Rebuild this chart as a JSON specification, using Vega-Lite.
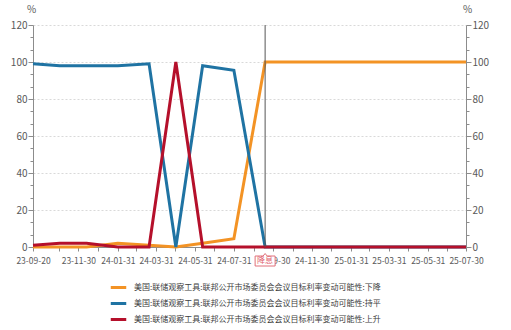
{
  "$schema": "https://vega.github.io/schema/vega-lite/v6.json",
  "autosize": {"type": "none"},
  "width": 433,
  "height": 222,
  "padding": {"left": 33, "top": 25, "right": 45, "bottom": 83},
  "background": "#ffffff",
  "config": {
    "view": {"stroke": null},
    "font": "Noto Sans CJK SC",
    "axis": {
      "labelFont": "Noto Sans CJK SC",
      "labelColor": "#595959",
      "titleColor": "#595959",
      "domainColor": "#8c8c8c",
      "tickColor": "#8c8c8c",
      "grid": false
    }
  },
  "datasets": {
    "fomc": [
      {"date": "2023-09-20", "series": "美国:联储观察工具:联邦公开市场委员会会议目标利率变动可能性:下降", "value": 0},
      {"date": "2023-11-01", "series": "美国:联储观察工具:联邦公开市场委员会会议目标利率变动可能性:下降", "value": 0},
      {"date": "2023-12-13", "series": "美国:联储观察工具:联邦公开市场委员会会议目标利率变动可能性:下降", "value": 0},
      {"date": "2024-01-31", "series": "美国:联储观察工具:联邦公开市场委员会会议目标利率变动可能性:下降", "value": 2},
      {"date": "2024-03-20", "series": "美国:联储观察工具:联邦公开市场委员会会议目标利率变动可能性:下降", "value": 1},
      {"date": "2024-05-01", "series": "美国:联储观察工具:联邦公开市场委员会会议目标利率变动可能性:下降", "value": 0},
      {"date": "2024-06-12", "series": "美国:联储观察工具:联邦公开市场委员会会议目标利率变动可能性:下降", "value": 2},
      {"date": "2024-07-31", "series": "美国:联储观察工具:联邦公开市场委员会会议目标利率变动可能性:下降", "value": 4.5},
      {"date": "2024-09-18", "series": "美国:联储观察工具:联邦公开市场委员会会议目标利率变动可能性:下降", "value": 100},
      {"date": "2024-11-07", "series": "美国:联储观察工具:联邦公开市场委员会会议目标利率变动可能性:下降", "value": 100},
      {"date": "2024-12-18", "series": "美国:联储观察工具:联邦公开市场委员会会议目标利率变动可能性:下降", "value": 100},
      {"date": "2025-01-29", "series": "美国:联储观察工具:联邦公开市场委员会会议目标利率变动可能性:下降", "value": 100},
      {"date": "2025-03-19", "series": "美国:联储观察工具:联邦公开市场委员会会议目标利率变动可能性:下降", "value": 100},
      {"date": "2025-05-07", "series": "美国:联储观察工具:联邦公开市场委员会会议目标利率变动可能性:下降", "value": 100},
      {"date": "2025-06-18", "series": "美国:联储观察工具:联邦公开市场委员会会议目标利率变动可能性:下降", "value": 100},
      {"date": "2025-07-30", "series": "美国:联储观察工具:联邦公开市场委员会会议目标利率变动可能性:下降", "value": 100},
      {"date": "2023-09-20", "series": "美国:联储观察工具:联邦公开市场委员会会议目标利率变动可能性:持平", "value": 99},
      {"date": "2023-11-01", "series": "美国:联储观察工具:联邦公开市场委员会会议目标利率变动可能性:持平", "value": 98},
      {"date": "2023-12-13", "series": "美国:联储观察工具:联邦公开市场委员会会议目标利率变动可能性:持平", "value": 98},
      {"date": "2024-01-31", "series": "美国:联储观察工具:联邦公开市场委员会会议目标利率变动可能性:持平", "value": 98},
      {"date": "2024-03-20", "series": "美国:联储观察工具:联邦公开市场委员会会议目标利率变动可能性:持平", "value": 99},
      {"date": "2024-05-01", "series": "美国:联储观察工具:联邦公开市场委员会会议目标利率变动可能性:持平", "value": 0},
      {"date": "2024-06-12", "series": "美国:联储观察工具:联邦公开市场委员会会议目标利率变动可能性:持平", "value": 98},
      {"date": "2024-07-31", "series": "美国:联储观察工具:联邦公开市场委员会会议目标利率变动可能性:持平", "value": 95.5},
      {"date": "2024-09-18", "series": "美国:联储观察工具:联邦公开市场委员会会议目标利率变动可能性:持平", "value": 0},
      {"date": "2024-11-07", "series": "美国:联储观察工具:联邦公开市场委员会会议目标利率变动可能性:持平", "value": 0},
      {"date": "2024-12-18", "series": "美国:联储观察工具:联邦公开市场委员会会议目标利率变动可能性:持平", "value": 0},
      {"date": "2025-01-29", "series": "美国:联储观察工具:联邦公开市场委员会会议目标利率变动可能性:持平", "value": 0},
      {"date": "2025-03-19", "series": "美国:联储观察工具:联邦公开市场委员会会议目标利率变动可能性:持平", "value": 0},
      {"date": "2025-05-07", "series": "美国:联储观察工具:联邦公开市场委员会会议目标利率变动可能性:持平", "value": 0},
      {"date": "2025-06-18", "series": "美国:联储观察工具:联邦公开市场委员会会议目标利率变动可能性:持平", "value": 0},
      {"date": "2025-07-30", "series": "美国:联储观察工具:联邦公开市场委员会会议目标利率变动可能性:持平", "value": 0},
      {"date": "2023-09-20", "series": "美国:联储观察工具:联邦公开市场委员会会议目标利率变动可能性:上升", "value": 1},
      {"date": "2023-11-01", "series": "美国:联储观察工具:联邦公开市场委员会会议目标利率变动可能性:上升", "value": 2},
      {"date": "2023-12-13", "series": "美国:联储观察工具:联邦公开市场委员会会议目标利率变动可能性:上升", "value": 2},
      {"date": "2024-01-31", "series": "美国:联储观察工具:联邦公开市场委员会会议目标利率变动可能性:上升", "value": 0},
      {"date": "2024-03-20", "series": "美国:联储观察工具:联邦公开市场委员会会议目标利率变动可能性:上升", "value": 0},
      {"date": "2024-05-01", "series": "美国:联储观察工具:联邦公开市场委员会会议目标利率变动可能性:上升", "value": 100},
      {"date": "2024-06-12", "series": "美国:联储观察工具:联邦公开市场委员会会议目标利率变动可能性:上升", "value": 0},
      {"date": "2024-07-31", "series": "美国:联储观察工具:联邦公开市场委员会会议目标利率变动可能性:上升", "value": 0},
      {"date": "2024-09-18", "series": "美国:联储观察工具:联邦公开市场委员会会议目标利率变动可能性:上升", "value": 0},
      {"date": "2024-11-07", "series": "美国:联储观察工具:联邦公开市场委员会会议目标利率变动可能性:上升", "value": 0},
      {"date": "2024-12-18", "series": "美国:联储观察工具:联邦公开市场委员会会议目标利率变动可能性:上升", "value": 0},
      {"date": "2025-01-29", "series": "美国:联储观察工具:联邦公开市场委员会会议目标利率变动可能性:上升", "value": 0},
      {"date": "2025-03-19", "series": "美国:联储观察工具:联邦公开市场委员会会议目标利率变动可能性:上升", "value": 0},
      {"date": "2025-05-07", "series": "美国:联储观察工具:联邦公开市场委员会会议目标利率变动可能性:上升", "value": 0},
      {"date": "2025-06-18", "series": "美国:联储观察工具:联邦公开市场委员会会议目标利率变动可能性:上升", "value": 0},
      {"date": "2025-07-30", "series": "美国:联储观察工具:联邦公开市场委员会会议目标利率变动可能性:上升", "value": 0}
    ],
    "events": [
      {"date": "2024-09-18", "label": "降息"}
    ]
  },
  "encoding": {
    "x": {
      "field": "date",
      "type": "temporal",
      "title": null,
      "scale": {"type": "utc", "domain": [{"year": 2023, "month": 9, "date": 20, "utc": true}, {"year": 2025, "month": 7, "date": 30, "utc": true}]},
      "axis": {
        "title": null,
        "values": [
          {"year": 2023, "month": 9, "date": 20, "utc": true},
          {"year": 2023, "month": 10, "date": 31, "utc": true},
          {"year": 2023, "month": 11, "date": 30, "utc": true},
          {"year": 2023, "month": 12, "date": 31, "utc": true},
          {"year": 2024, "month": 1, "date": 31, "utc": true},
          {"year": 2024, "month": 2, "date": 29, "utc": true},
          {"year": 2024, "month": 3, "date": 31, "utc": true},
          {"year": 2024, "month": 4, "date": 30, "utc": true},
          {"year": 2024, "month": 5, "date": 31, "utc": true},
          {"year": 2024, "month": 6, "date": 30, "utc": true},
          {"year": 2024, "month": 7, "date": 31, "utc": true},
          {"year": 2024, "month": 8, "date": 31, "utc": true},
          {"year": 2024, "month": 9, "date": 30, "utc": true},
          {"year": 2024, "month": 10, "date": 31, "utc": true},
          {"year": 2024, "month": 11, "date": 30, "utc": true},
          {"year": 2024, "month": 12, "date": 31, "utc": true},
          {"year": 2025, "month": 1, "date": 31, "utc": true},
          {"year": 2025, "month": 2, "date": 28, "utc": true},
          {"year": 2025, "month": 3, "date": 31, "utc": true},
          {"year": 2025, "month": 4, "date": 30, "utc": true},
          {"year": 2025, "month": 5, "date": 31, "utc": true},
          {"year": 2025, "month": 6, "date": 30, "utc": true},
          {"year": 2025, "month": 7, "date": 30, "utc": true}
        ],
        "labelExpr": "utcmonth(datum.value) % 2 == 0 ? utcFormat(datum.value, '%y-%m-%d') : ''",
        "labelOverlap": false,
        "labelFlush": false,
        "labelFontSize": 8.5,
        "labelPadding": 5,
        "tickSize": 4,
        "domain": true
      }
    }
  },
  "layer": [
    {
      "data": {"name": "fomc"},
      "mark": {"type": "line", "strokeWidth": 3, "strokeJoin": "miter", "interpolate": "linear"},
      "encoding": {
        "y": {
          "field": "value",
          "type": "quantitative",
          "scale": {"domain": [0, 120], "nice": false},
          "axis": {
            "orient": "left",
            "title": "%",
            "titleAngle": 0,
            "titleFontSize": 10,
            "titleFontWeight": "normal",
            "titleX": -2,
            "titleY": -11,
            "titleAlign": "center",
            "values": [0, 6.6667, 13.3333, 20, 26.6667, 33.3333, 40, 46.6667, 53.3333, 60, 66.6667, 73.3333, 80, 86.6667, 93.3333, 100, 106.6667, 113.3333, 120],
            "labelExpr": "abs(datum.value - round(datum.value / 20) * 20) < 0.01 ? format(datum.value, 'd') : ''",
            "labelFontSize": 10,
            "labelPadding": 1,
            "tickSize": {"condition": {"test": "abs(datum.value - round(datum.value / 20) * 20) < 0.01", "value": 5}, "value": 3},
            "grid": true,
            "gridColor": "#d9d9d9",
            "gridDash": [2, 2],
            "gridOpacity": {"condition": {"test": "abs(datum.value - round(datum.value / 20) * 20) < 0.01 && datum.value > 0", "value": 1}, "value": 0}
          }
        },
        "color": {
          "field": "series",
          "type": "nominal",
          "sort": null,
          "scale": {
            "domain": [
              "美国:联储观察工具:联邦公开市场委员会会议目标利率变动可能性:下降",
              "美国:联储观察工具:联邦公开市场委员会会议目标利率变动可能性:持平",
              "美国:联储观察工具:联邦公开市场委员会会议目标利率变动可能性:上升"
            ],
            "range": ["#f39325", "#1f73a3", "#b5102b"]
          },
          "legend": {
            "orient": "none",
            "legendX": 76,
            "legendY": 253,
            "direction": "vertical",
            "title": null,
            "symbolType": "stroke",
            "symbolStrokeWidth": 3,
            "symbolSize": 240,
            "labelFontSize": 8,
            "labelColor": "#404040",
            "labelLimit": 400,
            "labelOffset": 6,
            "rowPadding": 0
          }
        }
      }
    },
    {
      "data": {"name": "events"},
      "mark": {"type": "rule", "color": "#555555", "strokeWidth": 1}
    },
    {
      "data": {"name": "events"},
      "mark": {
        "type": "point",
        "shape": "M-1,-0.5L-0.2,-0.5L0,-0.75L0.2,-0.5L1,-0.5L1,0.5L-1,0.5Z",
        "size": 400,
        "filled": true,
        "fill": "#ffffff",
        "stroke": "#e0707a",
        "strokeWidth": 1,
        "opacity": 1,
        "yOffset": 14
      },
      "encoding": {
        "y": {"datum": 0, "type": "quantitative", "axis": null}
      }
    },
    {
      "data": {"name": "events"},
      "mark": {"type": "text", "fontSize": 8, "color": "#e0606c", "yOffset": 14, "baseline": "middle", "align": "center"},
      "encoding": {
        "y": {
          "datum": 0,
          "type": "quantitative",
          "axis": {
            "orient": "right",
            "title": "%",
            "titleAngle": 0,
            "titleFontSize": 10,
            "titleFontWeight": "normal",
            "titleX": 1,
            "titleY": -11,
            "titleAlign": "center",
            "values": [0, 6.6667, 13.3333, 20, 26.6667, 33.3333, 40, 46.6667, 53.3333, 60, 66.6667, 73.3333, 80, 86.6667, 93.3333, 100, 106.6667, 113.3333, 120],
            "labelExpr": "abs(datum.value - round(datum.value / 20) * 20) < 0.01 ? format(datum.value, 'd') : ''",
            "labelFontSize": 10,
            "labelPadding": 1,
            "tickSize": {"condition": {"test": "abs(datum.value - round(datum.value / 20) * 20) < 0.01", "value": 5}, "value": 3}
          }
        },
        "text": {"field": "label"}
      }
    }
  ],
  "resolve": {"scale": {"y": "shared"}, "axis": {"y": "independent"}}
}
